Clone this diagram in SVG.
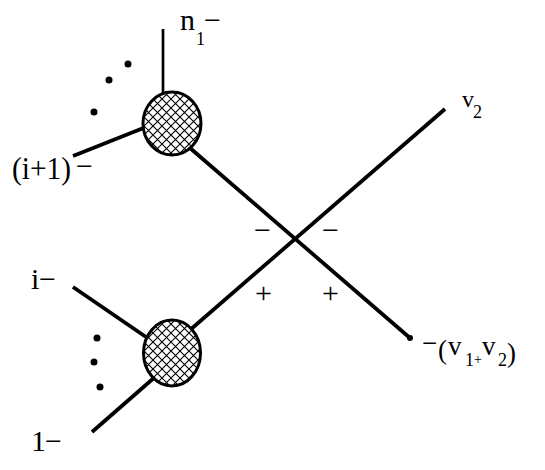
<svg xmlns="http://www.w3.org/2000/svg" width="545" height="470" viewBox="0 0 545 470">
<style>
.ln{stroke:#000;stroke-width:3.8;stroke-linecap:butt;fill:none}
.thin{stroke:#000;stroke-width:2.7;fill:none}
.blob{fill:url(#hatch);stroke:#000;stroke-width:3}
.dot{fill:#000}
.t{font-family:"Liberation Serif","Times New Roman",serif;fill:#000}
.s32{font-size:32px}
.s30{font-size:30px}
.s27{font-size:27px}
.s24{font-size:24px}
.s18{font-size:18px}
.s14{font-size:14px}
</style>
<defs>
<pattern id="hatch" patternUnits="userSpaceOnUse" width="9" height="9">
<rect width="9" height="9" fill="#fff"/>
<path d="M0,0 L9,9 M9,0 L0,9" stroke="#000" stroke-width="1.1"/>
</pattern>
</defs>
<rect width="545" height="470" fill="#fff"/>
<g id="connectors">
<line class="thin" x1="163" y1="29" x2="163" y2="94"/>
<line class="ln" x1="73" y1="156" x2="146" y2="127"/>
<line class="ln" x1="190" y1="148" x2="410" y2="338"/>
<line class="ln" x1="445" y1="109" x2="190" y2="330"/>
<line class="ln" x1="73" y1="287" x2="146" y2="337"/>
<line class="ln" x1="92" y1="432" x2="155" y2="377"/>
<circle class="dot" cx="410" cy="338" r="3"/>
</g>
<g id="node-top">
<ellipse class="blob" cx="172" cy="123.5" rx="29" ry="31.5"/>
</g>
<g id="node-bottom">
<ellipse class="blob" cx="172" cy="353" rx="28.5" ry="33"/>
</g>
<g id="dots-top">
<circle class="dot" cx="94" cy="112" r="3.5"/>
<circle class="dot" cx="109" cy="80" r="3.5"/>
<circle class="dot" cx="128" cy="64" r="3.5"/>
</g>
<g id="dots-bottom">
<circle class="dot" cx="97" cy="338" r="3.5"/>
<circle class="dot" cx="94" cy="362" r="3.5"/>
<circle class="dot" cx="100" cy="387" r="3.5"/>
</g>
<g id="labels">
<text class="t s30" x="180" y="30">n</text>
<text class="t s18" x="196" y="45">1</text>
<text class="t s30" x="204" y="30">−</text>
<text class="t s32" x="12" y="179" textLength="59" lengthAdjust="spacingAndGlyphs">(i+1)</text>
<text class="t s30" x="76" y="176">−</text>
<text class="t s30" x="31" y="289">i</text>
<text class="t s30" x="39" y="289">−</text>
<text class="t s30" x="31" y="451">1</text>
<text class="t s30" x="45" y="451">−</text>
<text class="t s24" x="462" y="107">v</text>
<text class="t s18" x="473" y="118">2</text>
<text class="t s27" x="422" y="352">−</text>
<text class="t s27" x="438" y="359">(</text>
<text class="t s27" x="448" y="355">v</text>
<text class="t s18" x="465" y="366">1</text>
<text class="t s14" x="474" y="364">+</text>
<text class="t s27" x="482" y="355">v</text>
<text class="t s18" x="498" y="366">2</text>
<text class="t s27" x="507" y="362">)</text>
<text class="t s30" x="254" y="240">−</text>
<text class="t s30" x="322" y="240">−</text>
<text class="t s30" x="255" y="303">+</text>
<text class="t s30" x="322" y="303">+</text>
</g>
</svg>
